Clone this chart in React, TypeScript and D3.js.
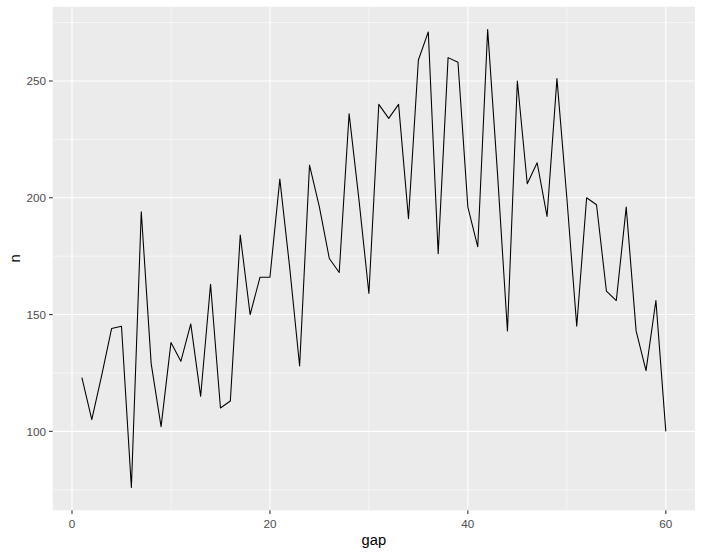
import React from 'react';
import * as d3 from 'd3';

const gaps = [
  1, 2, 3, 4, 5, 6, 7, 8, 9, 10, 11, 12, 13, 14, 15, 16, 17, 18, 19, 20,
  21, 22, 23, 24, 25, 26, 27, 28, 29, 30, 31, 32, 33, 34, 35, 36, 37, 38, 39, 40,
  41, 42, 43, 44, 45, 46, 47, 48, 49, 50, 51, 52, 53, 54, 55, 56, 57, 58, 59, 60,
];
const counts = [
  123, 105, 124, 144, 145, 76, 194, 129, 102, 138, 130, 146, 115, 163, 110, 113, 184, 150, 166, 166,
  208, 170, 128, 214, 196, 174, 168, 236, 199, 159, 240, 234, 240, 191, 259, 271, 176, 260, 258, 196,
  179, 272, 210, 143, 250, 206, 215, 192, 251, 200, 145, 200, 197, 160, 156, 196, 143, 126, 156, 100,
];
const xTicks = [0, 20, 40, 60];
const xMinor = [10, 30, 50];
const yTicks = [100, 150, 200, 250];
const yMinor = [75, 125, 175, 225, 275];

const W = 703;
const H = 556;
const panel = { left: 52.7, right: 695, top: 6.7, bottom: 510.3 };
const font = '"Liberation Sans", Arial, sans-serif';

export default function App() {
  // ggplot style 5% expansion on both axes
  const xExt = d3.extent(gaps) as [number, number];
  const yExt = d3.extent(counts) as [number, number];
  const xPad = (xExt[1] - xExt[0]) * 0.05;
  const yPad = (yExt[1] - yExt[0]) * 0.05;

  const x = d3.scaleLinear()
    .domain([xExt[0] - xPad, xExt[1] + xPad])
    .range([panel.left, panel.right]);
  const y = d3.scaleLinear()
    .domain([yExt[0] - yPad, yExt[1] + yPad])
    .range([panel.bottom, panel.top]);

  const line = d3.line<number>()
    .x((_d, i) => x(gaps[i]))
    .y(d => y(d));

  const midX = (panel.left + panel.right) / 2;
  const midY = (panel.top + panel.bottom) / 2;

  return (
    <svg width={W} height={H} style={{ position: 'absolute', left: 0, top: 0, background: '#fff' }}>
      <rect x={panel.left} y={panel.top} width={panel.right - panel.left}
        height={panel.bottom - panel.top} fill="#EBEBEB" />

      {/* minor grid */}
      {xMinor.map(t => (
        <line key={'xm' + t} x1={x(t)} x2={x(t)} y1={panel.top} y2={panel.bottom}
          stroke="#fff" strokeWidth={0.53} />
      ))}
      {yMinor.map(t => (
        <line key={'ym' + t} x1={panel.left} x2={panel.right} y1={y(t)} y2={y(t)}
          stroke="#fff" strokeWidth={0.53} />
      ))}

      {/* major grid */}
      {xTicks.map(t => (
        <line key={'xg' + t} x1={x(t)} x2={x(t)} y1={panel.top} y2={panel.bottom}
          stroke="#fff" strokeWidth={1.07} />
      ))}
      {yTicks.map(t => (
        <line key={'yg' + t} x1={panel.left} x2={panel.right} y1={y(t)} y2={y(t)}
          stroke="#fff" strokeWidth={1.07} />
      ))}

      <path d={line(counts) ?? ''} fill="none" stroke="#000" strokeWidth={1.07}
        strokeLinejoin="round" />

      {/* x axis */}
      {xTicks.map(t => (
        <g key={'xt' + t}>
          <line x1={x(t)} x2={x(t)} y1={panel.bottom} y2={panel.bottom + 3.67}
            stroke="#333333" strokeWidth={1.07} />
          <text x={x(t)} y={528.3} textAnchor="middle" fontFamily={font}
            fontSize={11.7} fill="#4D4D4D">{t}</text>
        </g>
      ))}

      {/* y axis */}
      {yTicks.map(t => (
        <g key={'yt' + t}>
          <line x1={panel.left - 3.67} x2={panel.left} y1={y(t)} y2={y(t)}
            stroke="#333333" strokeWidth={1.07} />
          <text x={46} y={y(t)} dy="0.36em" textAnchor="end" fontFamily={font}
            fontSize={11.7} fill="#4D4D4D">{t}</text>
        </g>
      ))}

      <text x={midX} y={545.3} textAnchor="middle" fontFamily={font}
        fontSize={14.7} fill="#000">gap</text>
      <text transform={`translate(20.3,${midY}) rotate(-90)`} textAnchor="middle"
        fontFamily={font} fontSize={14.7} fill="#000">n</text>
    </svg>
  );
}
